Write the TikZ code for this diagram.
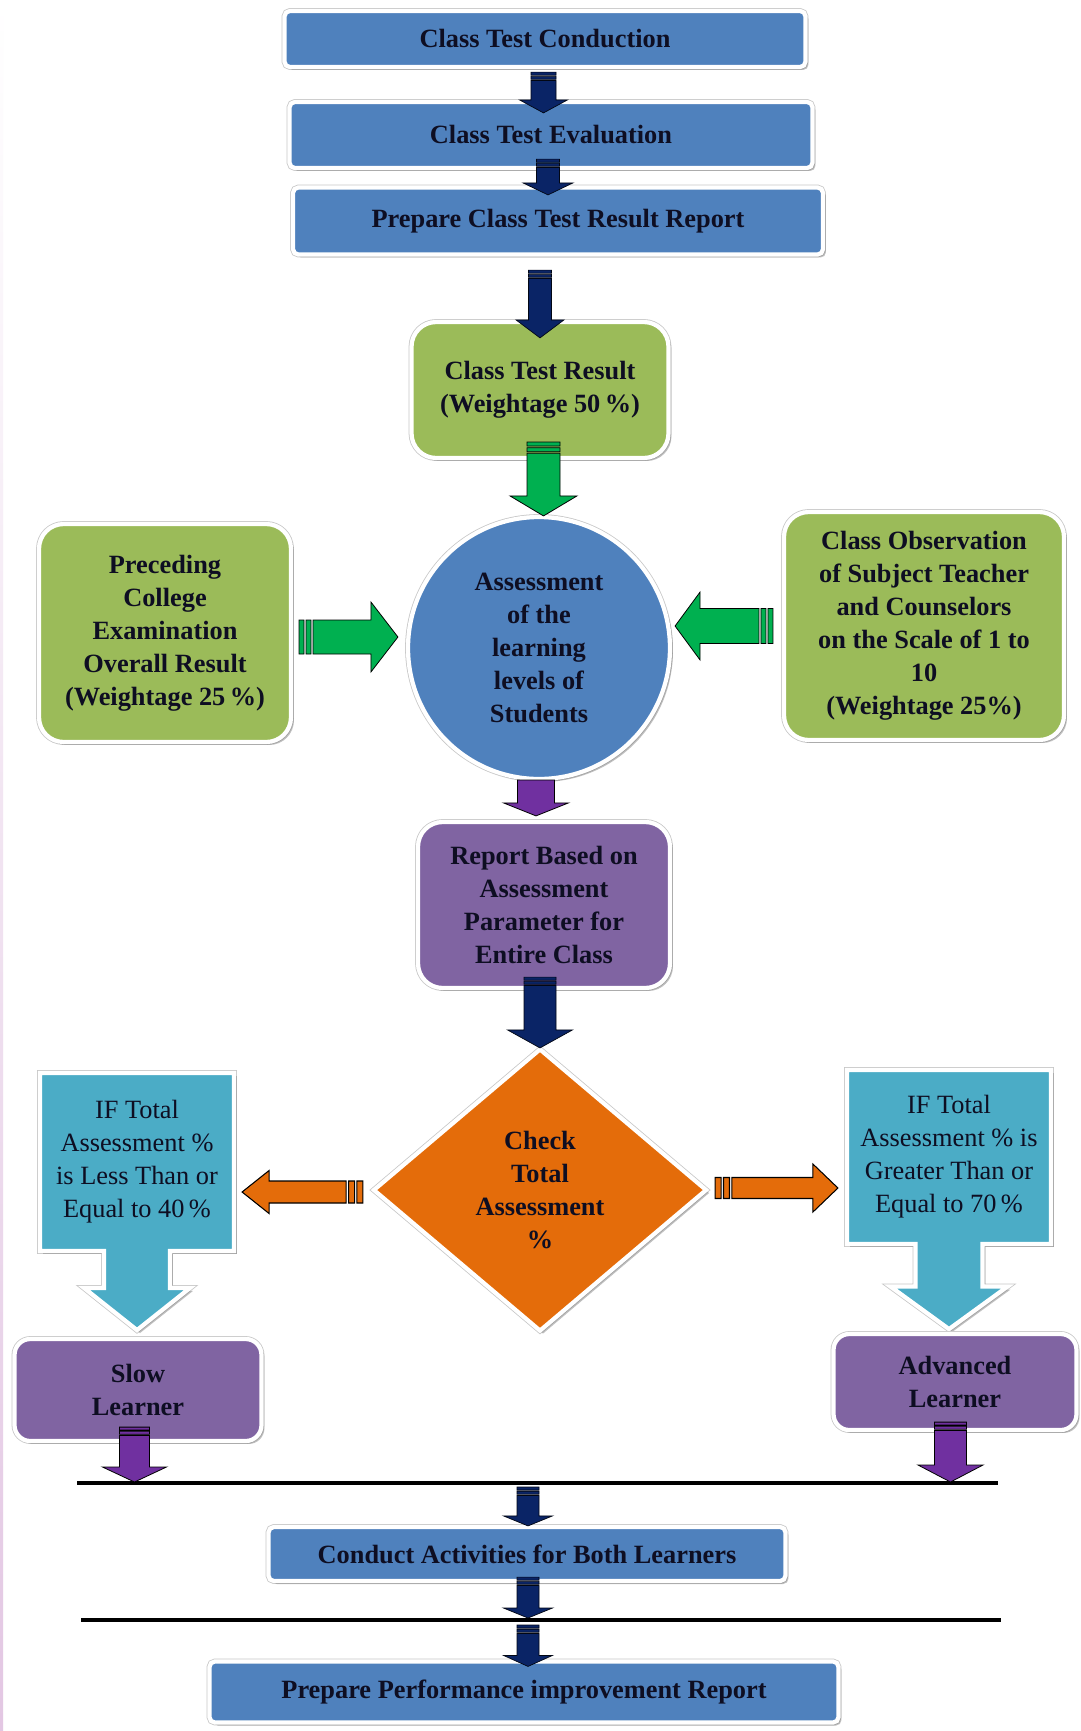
\documentclass[tikz,border=0pt]{standalone}
\usepackage{fontspec}
\setmainfont{Liberation Serif}
\usetikzlibrary{positioning}
\usetikzlibrary{calc}
\usetikzlibrary{shapes.geometric}
\usetikzlibrary{shapes.arrows}
\usetikzlibrary{shadows}

\definecolor{ink}{HTML}{0E0E22}
\definecolor{boxblue}{HTML}{4F81BD}
\definecolor{boxgreen}{HTML}{9BBB59}
\definecolor{boxpurple}{HTML}{8064A2}
\definecolor{boxorange}{HTML}{E46C0A}
\definecolor{boxcyan}{HTML}{4BACC6}
\definecolor{arrnavy}{HTML}{0A2466}
\definecolor{arrgreen}{HTML}{00B050}
\definecolor{arrpurple}{HTML}{7030A0}

\def\pxu{0.02cm}
% block arrows: style, tail, tip, shaft half width, head half width, head length, stripe (px)
\newcommand{\vblock}[7]{%
  \path[#1] let \p1=#2, \p2=#3, \n1={#7*\pxu} in
    (\x2-#4*\pxu,\y1) rectangle (\x2+#4*\pxu,\y1-\n1)
    (\x2-#4*\pxu,\y1-1.4*\n1) rectangle (\x2+#4*\pxu,\y1-2.4*\n1)
    (\x2-#4*\pxu,\y1-2.8*\n1) -- (\x2-#4*\pxu,\y2+#6*\pxu) -- (\x2-#5*\pxu,\y2+#6*\pxu)
    -- (\x2,\y2) -- (\x2+#5*\pxu,\y2+#6*\pxu) -- (\x2+#4*\pxu,\y2+#6*\pxu)
    -- (\x2+#4*\pxu,\y1-2.8*\n1) -- cycle;}
\newcommand{\hblock}[7]{%
  \path[#1] let \p1=#2, \p2=#3, \n1={#7*\pxu}, \n2={(\x2-\x1)/abs(\x2-\x1)},
    \n3={\n2*\n1}, \n4={\n2*#6*\pxu} in
    (\x1,\y2-#4*\pxu) rectangle (\x1+\n3,\y2+#4*\pxu)
    (\x1+1.4*\n3,\y2-#4*\pxu) rectangle (\x1+2.4*\n3,\y2+#4*\pxu)
    (\x1+2.8*\n3,\y2-#4*\pxu) -- (\x2-\n4,\y2-#4*\pxu) -- (\x2-\n4,\y2-#5*\pxu)
    -- (\x2,\y2) -- (\x2-\n4,\y2+#5*\pxu) -- (\x2-\n4,\y2+#4*\pxu)
    -- (\x1+2.8*\n3,\y2+#4*\pxu) -- cycle;}

\tikzset{
  base/.style={draw=white, line width=2.4pt, text=ink, align=center, inner sep=2pt,
    font=\fontsize{15}{18.8}\selectfont\bfseries,
    preaction={draw=black!22, line width=3.3pt},
    drop shadow={shadow xshift=1.7pt, shadow yshift=-1.7pt, fill=black!55, opacity=0.45}},
  bluebox/.style={base, rectangle, rounded corners=3pt, fill=boxblue},
  greenbox/.style={base, rectangle, rounded corners=14pt, fill=boxgreen},
  purplebox/.style={base, rectangle, rounded corners=14pt, fill=boxpurple},
  learner/.style={base, rectangle, rounded corners=9pt, fill=boxpurple},
  hub/.style={base, circle, fill=boxblue, inner sep=0pt},
  decide/.style={base, diamond, fill=boxorange, inner sep=0pt},
  callout/.style={base, arrow box, fill=boxcyan, rounded corners=0pt,
    font=\fontsize{15}{18.8}\selectfont},
  navyarr/.style={fill=arrnavy, draw=black!80!arrnavy, line width=0.4pt},
  greenarr/.style={fill=arrgreen, draw=black, line width=0.45pt},
  purplearr/.style={fill=arrpurple, draw=black, line width=0.45pt},
  orangearr/.style={fill=boxorange, draw=black, line width=0.6pt},
  bar/.style={draw=black, line width=2.2pt},
}

\begin{document}
\begin{tikzpicture}[x=0.02cm, y=-0.02cm]
  \useasboundingbox (0,0) rectangle (1081,1731);
  \fill[white] (0,0) rectangle (1081,1731);
  \fill[top color=white, bottom color=violet!22] (0,0) rectangle (3,1731);

  % class test steps
  \node[bluebox, minimum width=10.42cm, minimum height=1.12cm] (b1) at (545,39) {Class Test Conduction};
  \node[bluebox, minimum width=10.46cm, minimum height=1.32cm] (b2) at (551,135) {Class Test Evaluation};
  \node[bluebox, minimum width=10.6cm, minimum height=1.34cm] (b3) at (558,221) {Prepare Class Test Result Report};

  % assessment inputs
  \node[greenbox, minimum width=5.14cm, minimum height=2.72cm] (ctr) at (540,390)
    {Class Test Result\\(Weightage 50\,\%)};
  \node[greenbox, minimum width=5.04cm, minimum height=4.36cm] (pce) at (165,633)
    {Preceding\\College\\Examination\\Overall Result\\(Weightage 25\,\%)};
  \node[greenbox, minimum width=5.6cm, minimum height=4.56cm] (cob) at (924,626)
    {Class Observation\\of Subject Teacher\\and Counselors\\on the Scale of 1 to\\10\\(Weightage 25\%)};
  \node[hub, minimum size=5.24cm] (circ) at (539,648)
    {Assessment\\of the\\learning\\levels of\\Students};

  \node[purplebox, minimum width=5.04cm, minimum height=3.32cm] (rep) at (544,905)
    {Report Based on\\Assessment\\Parameter for\\Entire Class};
  \node[decide, minimum width=6.68cm, minimum height=5.66cm] (dia) at (540,1190)
    {Check\\Total\\Assessment\\\%};

  % outcome callouts
  \node[callout, minimum width=3.88cm, minimum height=3.56cm, arrow box arrows={south:1.54cm},
    arrow box shaft width=1.32cm, arrow box head extend=0.4cm, arrow box tip angle=103] (lc) at (137,1162)
    {IF Total\\Assessment \%\\is Less Than or\\Equal to 40\,\%};
  \node[callout, minimum width=4.08cm, minimum height=3.48cm, arrow box arrows={south:1.66cm},
    arrow box shaft width=1.34cm, arrow box head extend=0.5cm, arrow box tip angle=108] (rc) at (949,1157)
    {IF Total\\Assessment \% is\\Greater Than or\\Equal to 70\,\%};
  \node[learner, minimum width=4.94cm, minimum height=2.04cm] (slow) at (138,1390) {Slow\\Learner};
  \node[learner, minimum width=4.86cm, minimum height=1.92cm] (adv) at (955,1382) {Advanced\\Learner};

  % merge lines
  \coordinate (l1w) at (77,1483);
  \coordinate (l1e) at (998,1483);
  \coordinate (l2w) at (81,1620);
  \coordinate (l2e) at (1001,1620);
  \draw[bar] (l1w) -- (l1e);
  \draw[bar] (l2w) -- (l2e);

  \node[bluebox, minimum width=10.34cm, minimum height=1.08cm] (cab) at (527,1554) {Conduct Activities for Both Learners};
  \node[bluebox, minimum width=12.58cm, minimum height=1.22cm] (ppr) at (524,1692) {Prepare Performance improvement Report};

  % block arrows
  \vblock{navyarr}{($(b1.south)+(-1.5,3)$)}{($(b2.north)+(-7.5,13)$)}{12.5}{24}{13}{3}
  \vblock{navyarr}{($(b2.south)+(-3.5,-11)$)}{($(b3.north)+(-10,9.5)$)}{11.5}{25}{12}{3}
  \vblock{navyarr}{($(b3.south)+(-18,13.5)$)}{($(ctr.north)+(0,18)$)}{11.5}{24}{18}{3}
  \vblock{greenarr}{($(ctr.south)+(3.5,-18)$)}{($(circ.north)+(4.5,1)$)}{16.5}{33.5}{20}{4}
  \hblock{greenarr}{($(pce.east)+(6,4)$)}{($(circ.west)+(-8,-11)$)}{17}{35}{27}{5}
  \hblock{greenarr}{($(cob.west)+(-9,0)$)}{($(circ.east)+(3,-22)$)}{17.5}{34}{25}{5}
  \vblock{purplearr}{($(circ.south)+(-3,-1)$)}{($(rep.north)+(-8,-4)$)}{18.5}{32.5}{13}{0}
  \vblock{navyarr}{($(rep.south)+(-3,-13)$)}{($(dia.north)+(0,1.5)$)}{16}{32.5}{18}{3}
  \hblock{orangearr}{($(dia.west)+(-8,2)$)}{($(lc.east)+(6,30)$)}{11}{21.5}{27}{6}
  \hblock{orangearr}{($(dia.east)+(6,-2)$)}{($(rc.west)+(-7,31)$)}{10.5}{24}{25}{6}
  \vblock{purplearr}{($(slow.south)+(-3.5,-16)$)}{($(slow.south |- l1w)+(-3.5,-1)$)}{15}{32}{15}{3}
  \vblock{purplearr}{($(adv.south)+(-4.5,-10)$)}{($(adv.south |- l1e)+(-4.5,-1)$)}{16}{32.5}{17}{3}
  \vblock{navyarr}{($(cab.north |- l1w)+(1,4)$)}{($(cab.north)+(1,1)$)}{11}{24.5}{10}{3}
  \vblock{navyarr}{($(cab.south)+(1,-6)$)}{($(cab.south |- l2w)+(1,-2)$)}{11}{24.5}{10}{3}
  \vblock{navyarr}{($(ppr.north |- l2w)+(4,5)$)}{($(ppr.north)+(4,7)$)}{11}{24.5}{11}{3}
\end{tikzpicture}
\end{document}
